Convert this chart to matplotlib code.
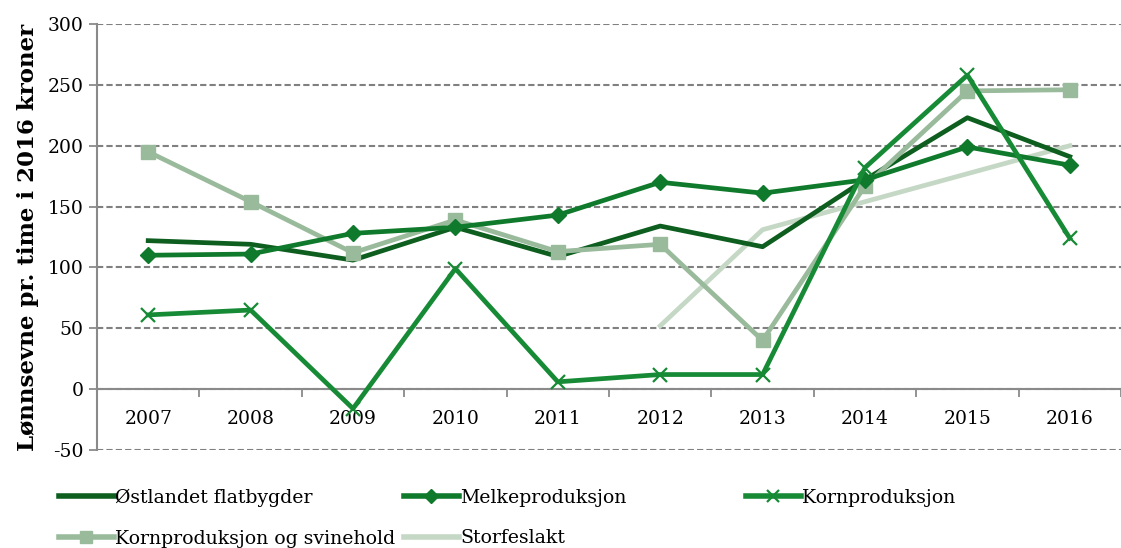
import matplotlib
matplotlib.use("Agg")
import matplotlib.pyplot as plt
from matplotlib.lines import Line2D
import numpy as np

plt.rcParams["axes.unicode_minus"] = False

years = ["2007", "2008", "2009", "2010", "2011", "2012", "2013", "2014", "2015", "2016"]
ostlandet = [122, 119, 106, 133, 109, 134, 117, 172, 223, 191]
melk = [110, 111, 128, 133, 143, 170, 161, 172, 199, 184]
korn = [61, 65, -16, 99, 6, 12, 12, 182, 258, 124]
korn_svin = [195, 154, 112, 139, 113, 119, 40, 167, 245, 246]
storfe = [None, None, None, None, None, 52, 131, 154, 177, 200]

names = ["Østlandet flatbygder", "Melkeproduksjon", "Kornproduksjon",
         "Kornproduksjon og svinehold", "Storfeslakt"]

W, H = 1121, 548
fig = plt.figure(figsize=(W / 100, H / 100), dpi=100)
ax = fig.add_axes([97 / W, 1 - 450 / H, (W - 97) / W, (450 - 24) / H])

x = np.arange(len(years))
serif = "DejaVu Serif"

c_ost = "#0d5e1f"
c_melk = "#0f7a2b"
c_korn = "#178a36"
c_ks = "#9aba9c"
c_st = "#c5d8c5"

lw = 3.4
ax.plot(x, ostlandet, color=c_ost, lw=lw, zorder=3)
ax.plot(x, melk, color=c_melk, lw=lw, marker="D", ms=8, zorder=4)
ax.plot(x, korn, color=c_korn, lw=lw, marker="x", ms=10, mew=1.6, zorder=5)
ax.plot(x, korn_svin, color=c_ks, lw=lw, marker="s", ms=10, zorder=3)
st = np.array([np.nan if v is None else v for v in storfe], dtype=float)
ax.plot(x, st, color=c_st, lw=lw, zorder=2)

ax.set_ylim(-50, 300)
ax.set_yticks(range(-50, 301, 50))
ax.set_xlim(-0.485, (W - 147) / 103.8)
ax.grid(axis="y", color="#808080", linestyle=(0, (3, 1.5)), lw=1.5)
ax.set_axisbelow(True)

for s in ["top", "right"]:
    ax.spines[s].set_visible(False)
ax.spines["left"].set_color("#8a8a8a")
ax.spines["left"].set_linewidth(1.5)
ax.spines["bottom"].set_position(("data", 0))
ax.spines["bottom"].set_color("#8a8a8a")
ax.spines["bottom"].set_linewidth(1.5)

ax.set_xticks(x)
ax.set_xticklabels(years, fontfamily=serif, fontsize=13.5)
ax.tick_params(axis="x", which="major", length=0, pad=15)
ax.set_xticks(np.arange(-0.5, 9.6, 1.0), minor=True)
ax.tick_params(axis="x", which="minor", length=6, color="#8a8a8a", width=1.3)
ax.tick_params(axis="y", length=6, color="#8a8a8a", width=1.3, labelsize=13.5)
for lab in ax.get_yticklabels():
    lab.set_fontfamily(serif)

ax.set_ylabel("Lønnsevne pr. time i 2016 kroner", fontfamily=serif,
              fontweight="bold", fontsize=16.5, labelpad=6)

handles = [
    Line2D([], [], color=c_ost, lw=4),
    Line2D([], [], color=c_melk, lw=4, marker="D", ms=7),
    Line2D([], [], color=c_korn, lw=4, marker="x", ms=9, mew=1.6),
    Line2D([], [], color=c_ks, lw=4, marker="s", ms=9),
    Line2D([], [], color=c_st, lw=4),
]
cols = [([0, 3], 55), ([1, 4], 400), ([2], 742)]
for idx, px in cols:
    leg = fig.legend([handles[i] for i in idx], [names[i] for i in idx],
                     loc="upper left", bbox_to_anchor=(px / W, 1 - 485 / H),
                     frameon=False, prop={"family": serif, "size": 13.6},
                     handlelength=2.9, handletextpad=0.1, labelspacing=1.2,
                     borderaxespad=0, borderpad=0.2)

fig.savefig("out.png", dpi=100)
